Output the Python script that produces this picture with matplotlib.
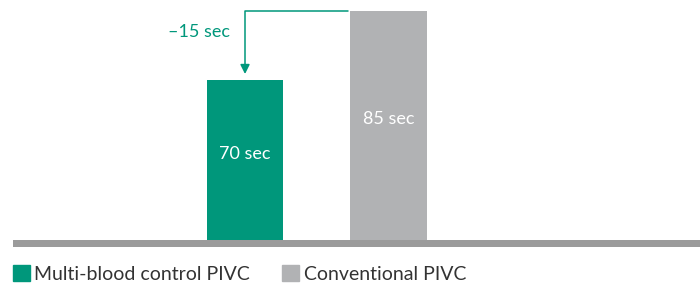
import matplotlib.pyplot as plt
from matplotlib.patches import Patch

plt.rcParams['font.family'] = ['Lato', 'DejaVu Sans']

categories = ['Multi-blood control PIVC', 'Conventional PIVC']
values = [70, 85]
bar_labels = ['70 sec', '85 sec']
diff_label = '–15 sec'
colors = ['#00977B', '#B1B2B4']
base = 35

fig = plt.figure(figsize=(7, 2.84), dpi=100)
ax = fig.add_axes([13 / 700, (284 - 247) / 284, 687 / 700, 247 / 284])

w = 0.53
x = list(range(len(values)))
ax.bar(x, [v - base for v in values], bottom=base, width=w, color=colors, zorder=2)

for xi, v, lab in zip(x, values, bar_labels):
    ax.text(xi, (v + base) / 2 + 1.4, lab, color='white', ha='center', va='center',
            fontsize=13)

ax.set_xlim(-1.617, 3.171)
ax.set_ylim(33.47, 87.5)

# grey baseline under the bars
ax.axhspan(33.47, base, color='#9B9B9B', zorder=1, lw=0)

# difference arrow from conventional bar top down to multi-blood bar
ax.annotate('', xy=(0, values[0] + 1.3), xytext=(1 - w / 2 - 0.02, values[1]),
            arrowprops=dict(arrowstyle='-|>', color=colors[0], lw=1.1,
                            connectionstyle='angle,angleA=180,angleB=90,rad=0',
                            shrinkA=0, shrinkB=0, mutation_scale=14))
ax.text(-0.105, 80.5, diff_label, color=colors[0], ha='right', va='center', fontsize=13)

ax.axis('off')

handles = [Patch(color=c, label=l) for c, l in zip(colors, categories)]
fig.legend(handles=handles, loc='lower left', bbox_to_anchor=(13 / 700, 0.005),
           frameon=False, ncol=2, handlelength=0.85, handleheight=0.85,
           handletextpad=0.25, columnspacing=1.65, borderpad=0, borderaxespad=0,
           fontsize=14, labelcolor='#333333')

fig.savefig('out.png', dpi=100)
